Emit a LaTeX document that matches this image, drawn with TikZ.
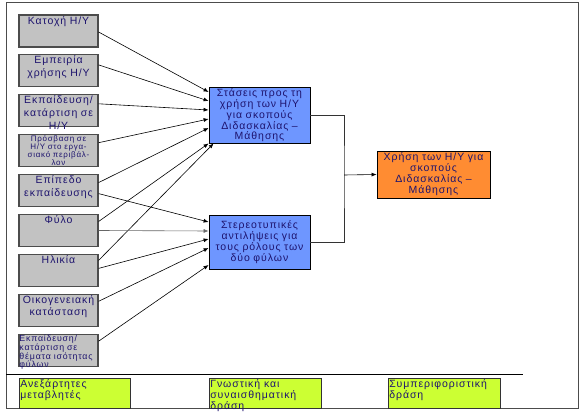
\documentclass[tikz,border=0pt]{standalone}
\usepackage{fontspec}
\setmainfont[LetterSpace=9]{Liberation Sans}
\usepackage{tikz}
\usetikzlibrary{calc}
\usetikzlibrary{arrows.meta}
\usetikzlibrary{positioning}
\definecolor{varGrey}{RGB}{194,194,194}
\definecolor{attBlue}{RGB}{110,150,255}
\definecolor{useOrange}{RGB}{255,140,50}
\definecolor{levelGreen}{RGB}{204,255,51}
\definecolor{boxText}{RGB}{30,20,110}
\tikzset{
    varBox/.style={
        ,   draw=black!70
        ,   fill=varGrey
        ,   line width=1.2pt
        ,   minimum width=79pt
        ,   minimum height=32pt
        ,   inner sep=0pt
    },
    varLabel/.style={
        ,   anchor=north
        ,   inner sep=1.5pt
        ,   text width=78pt
        ,   align=center
        ,   text=boxText
        ,   font=\fontsize{10.5pt}{12.6pt}\selectfont
    },
    smallFont/.style={
        ,   font=\fontsize{#1}{#1}\selectfont
        ,   inner sep=1pt
    },
    attBox/.style={ % cognitive level
        ,   draw=black
        ,   fill=attBlue
        ,   line width=0.8pt
        ,   minimum width=101pt
        ,   minimum height=#1
        ,   inner sep=0pt
        ,   text width=99pt
        ,   align=center
        ,   text=boxText
        ,   font=\fontsize{10.5pt}{10pt}\selectfont
    },
    useBox/.style={ % behavioural level
        ,   draw=black
        ,   fill=useOrange
        ,   line width=0.8pt
        ,   minimum width=113pt
        ,   minimum height=47pt
        ,   inner sep=0pt
        ,   text width=111pt
        ,   align=center
        ,   text=boxText
        ,   font=\fontsize{10.5pt}{11pt}\selectfont
    },
    levelBox/.style={
        ,   draw=black!80
        ,   fill=levelGreen
        ,   line width=0.8pt
        ,   minimum width=#1
        ,   minimum height=30pt
        ,   inner sep=0pt
    },
    levelLabel/.style={
        ,   anchor=north west
        ,   inner sep=1.5pt
        ,   align=left
        ,   text=boxText
        ,   font=\fontsize{10.5pt}{11.3pt}\selectfont
    },
    inArrow/.style={
        ,   draw=black
        ,   line width=0.6pt
        ,   -{Latex[length=5pt,width=4pt]}
    }
}

\begin{document}
\begin{tikzpicture}[x=1pt, y=-1pt]
			\useasboundingbox (0,0) rectangle (588,414);
			\draw[black!70, line width=1pt] (6,3) rectangle (578,408); % outer frame
			\draw[black, line width=0.8pt] (6,374) -- (523,374);
			
			% independent variables
			\node[varBox, label={[varLabel]north:Κατοχή Η/Υ}] (k1) at (58.5,31) {};
			\node[varBox, label={[varLabel]north:Εμπειρία\\χρήσης Η/Υ}] (k2) at (58.5,70.9) {};
			\node[varBox, label={[varLabel]north:Εκπαίδευση/\\κατάρτιση σε\\Η/Υ}] (k3) at (58.5,110.8) {};
			\node[varBox, label={[varLabel, smallFont=8pt]north:Πρόσβαση σε\\Η/Υ στο εργα-\\σιακό περιβάλ-\\λον}] (k4) at (58.5,150.7) {};
			\node[varBox, label={[varLabel]north:Επίπεδο\\εκπαίδευσης}] (k5) at (58.5,190.6) {};
			\node[varBox, label={[varLabel]north:Φύλο}] (k6) at (58.5,230.5) {};
			\node[varBox, label={[varLabel]north:Ηλικία}] (k7) at (58.5,270.4) {};
			\node[varBox, label={[varLabel]north:Οικογενειακή\\κατάσταση}] (k8) at (58.5,310.3) {};
			\node[varBox, label={[varLabel, smallFont=8.8pt, align=left]north:Εκπαίδευση/\\κατάρτιση σε\\θέματα ισότητας\\φύλων}] (k9) at (58.5,350.2) {};
			
			% cognitive and affective level
			\node[attBox=56pt] (att) at (259.5,115) {Στάσεις προς τη\\χρήση των Η/Υ\\για σκοπούς\\Διδασκαλίας –\\Μάθησης};
			\node[attBox=54pt] (ste) at (259.5,242) {Στερεοτυπικές\\αντιλήψεις για\\τους ρόλους των\\δύο φύλων};
			
			% behaviour
			\node[useBox] (use) at (433.5,174.5) {Χρήση των Η/Υ για\\σκοπούς\\Διδασκαλίας –\\Μάθησης};
			
			\draw[inArrow] ($(k1.east)+(0,1)$) -- ($(att.west)+(0,-23)$);
			\draw[inArrow] ($(k2.east)+(0,-6)$) -- ($(att.west)+(0,-14)$);
			\draw[inArrow] ($(k3.east)+(0,-7)$) -- ($(att.west)+(0,-5)$);
			\draw[inArrow] ($(k4.east)+(0,-8)$) -- ($(att.west)+(0,4)$);
			\draw[inArrow] ($(k5.east)+(0,-8)$) -- ($(att.west)+(0,13)$);
			\draw[inArrow] ($(k6.east)+(0,-9)$) -- (att.south west);
			\draw[inArrow] ($(k7.east)+(0,-10)$) -- ($(att.south west)+(5,0)$);
			
			\draw[inArrow] ($(k5.east)+(0,3)$) -- ($(ste.west)+(0,-20)$);
			\draw[inArrow, draw=black!60] (k6.east) -- ($(ste.west)+(0,-11)$);
			\draw[inArrow] ($(k7.east)+(0,-2)$) -- ($(ste.west)+(0,-3)$);
			\draw[inArrow] ($(k8.east)+(0,-9)$) -- ($(ste.west)+(0,6)$);
			\draw[inArrow] ($(k9.east)+(0,-9)$) -- ($(ste.west)+(0,23)$);
			
			\coordinate (J) at (344,175);
			\draw[black!80, line width=0.8pt] (att.east) -| (J) |- (ste.east);
			\draw[inArrow] (J) -- (use.west);
			
			% levels
			\node[levelBox=111pt, label={[levelLabel]north west:Ανεξάρτητες\\μεταβλητές}] (l1) at (74.5,393) {};
			\node[levelBox=112pt, label={[levelLabel]north west:Γνωστική και\\συναισθηματική\\δράση}] (l2) at (265,393) {};
			\node[levelBox=112pt, label={[levelLabel]north west:Συμπεριφοριστική\\δράση}] (l3) at (444,393) {};
\end{tikzpicture}
\end{document}
